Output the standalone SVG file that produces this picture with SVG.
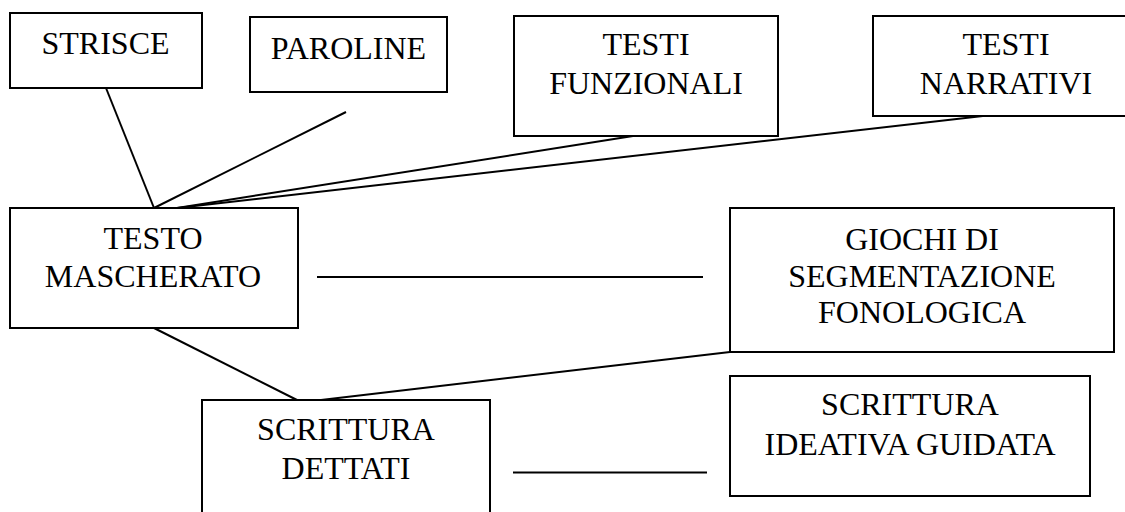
<svg xmlns="http://www.w3.org/2000/svg" width="1125" height="512" viewBox="0 0 1125 512">
<style>
.box{fill:#fff;stroke:#000;stroke-width:2}
.lbl{font-family:"Liberation Serif","Times New Roman",serif;font-size:32px;fill:#000;text-anchor:middle}
.con line{stroke:#000;stroke-width:2}
</style>
<rect width="1125" height="512" fill="#fff"/>
<g id="connectors" class="con">
<line x1="106" y1="88" x2="154" y2="208"/>
<line x1="346" y1="112" x2="154" y2="208"/>
<line x1="633" y1="136" x2="177" y2="208"/>
<line x1="1018" y1="112" x2="177" y2="208"/>
<line x1="317" y1="277" x2="703" y2="277"/>
<line x1="154" y1="328" x2="297" y2="400"/>
<line x1="730" y1="352" x2="321" y2="400"/>
<line x1="513" y1="472.5" x2="707" y2="472.5"/>
</g>
<g id="strisce"><rect class="box" x="10" y="13" width="192" height="75"/><text class="lbl" x="105.5" y="53.5">STRISCE</text></g>
<g id="paroline"><rect class="box" x="250" y="17" width="197" height="75"/><text class="lbl" x="348.5" y="58.5">PAROLINE</text></g>
<g id="testi-funzionali"><rect class="box" x="514" y="16" width="264" height="120"/><text class="lbl" x="646" y="55">TESTI</text><text class="lbl" x="646" y="94">FUNZIONALI</text></g>
<g id="testi-narrativi"><rect class="box" x="873" y="16" width="262" height="100"/><text class="lbl" x="1006" y="55">TESTI</text><text class="lbl" x="1006" y="94">NARRATIVI</text></g>
<g id="testo-mascherato"><rect class="box" x="10" y="208" width="288" height="120"/><text class="lbl" x="153" y="248.5">TESTO</text><text class="lbl" x="153" y="287">MASCHERATO</text></g>
<g id="giochi"><rect class="box" x="730" y="208" width="384" height="144"/><text class="lbl" x="922" y="250">GIOCHI DI</text><text class="lbl" x="922" y="286.5">SEGMENTAZIONE</text><text class="lbl" x="922" y="323">FONOLOGICA</text></g>
<g id="scrittura-dettati"><rect class="box" x="202" y="400" width="288" height="130"/><text class="lbl" x="346" y="440">SCRITTURA</text><text class="lbl" x="346" y="478.5">DETTATI</text></g>
<g id="scrittura-ideativa"><rect class="box" x="730" y="376" width="360" height="120"/><text class="lbl" x="910" y="415">SCRITTURA</text><text class="lbl" x="910" y="454.5">IDEATIVA GUIDATA</text></g>
</svg>
